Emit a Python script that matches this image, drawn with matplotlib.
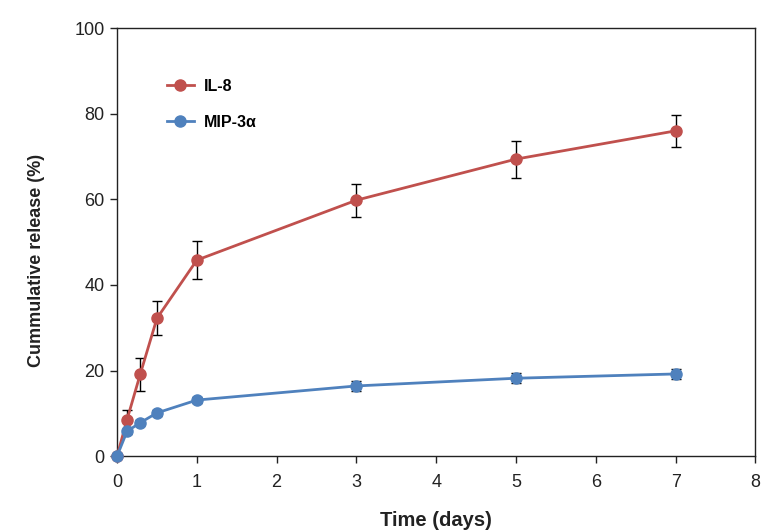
import matplotlib
matplotlib.use("Agg")
import matplotlib.pyplot as plt

plt.rcParams["font.family"] = ["Liberation Sans", "DejaVu Sans"]

# release times (days)
days = [0, 0.125, 0.29, 0.5, 1, 3, 5, 7]

il8 = [0, 8.5, 19.1, 32.2, 45.8, 59.8, 69.4, 76.0]
il8_err = [0, 2.3, 3.8, 4.0, 4.4, 3.9, 4.3, 3.7]

mip3a = [0, 5.8, 7.8, 10.1, 13.1, 16.4, 18.2, 19.2]
mip3a_err = [0, 0.6, 0.6, 0.7, 0.8, 1.1, 1.2, 1.2]

red = "#C0504D"
blue = "#4F81BD"

fig = plt.figure(figsize=(7.7, 5.31), dpi=100)
ax = fig.add_axes([0.152, 0.141, 0.829, 0.806])

ax.errorbar(days, il8, yerr=il8_err, color=red, lw=2, marker="o", ms=8,
            ecolor="black", elinewidth=1, capsize=3.5, capthick=1, label="IL-8", zorder=3)
ax.errorbar(days, mip3a, yerr=mip3a_err, color=blue, lw=2, marker="o", ms=8,
            ecolor="black", elinewidth=1, capsize=3.5, capthick=1, label="MIP-3α", zorder=3)

ax.set_xlim(0, 8)
ax.set_ylim(0, 100)
ax.set_xticks(range(0, 9))
ax.set_yticks(range(0, 101, 20))
ax.tick_params(direction="out", length=5, width=1, labelsize=13, colors="#222222")
ax.tick_params(axis="y", pad=4)
ax.tick_params(axis="x", pad=8)
for s in ax.spines.values():
    s.set_linewidth(1)
    s.set_color("#222222")
for c in ax.collections:
    c.set_clip_on(False)
for ln in ax.lines:
    ln.set_clip_on(False)

ax.set_xlabel("Time (days)", fontsize=14.5, fontweight="bold", labelpad=14, color="#222222")
ax.set_ylabel("Cummulative release (%)", fontsize=13, fontweight="bold", color="#222222")
ax.yaxis.set_label_coords(-0.113, 0.458)

handles, labels = ax.get_legend_handles_labels()
handles = [h[0] for h in handles]
ax.legend(handles, labels, loc="upper left", bbox_to_anchor=(0.055, 0.915), frameon=False,
          prop={"weight": "bold", "size": 11.5}, handlelength=1.75, labelspacing=1.3,
          handletextpad=0.6)

fig.savefig("out.png", dpi=100)
